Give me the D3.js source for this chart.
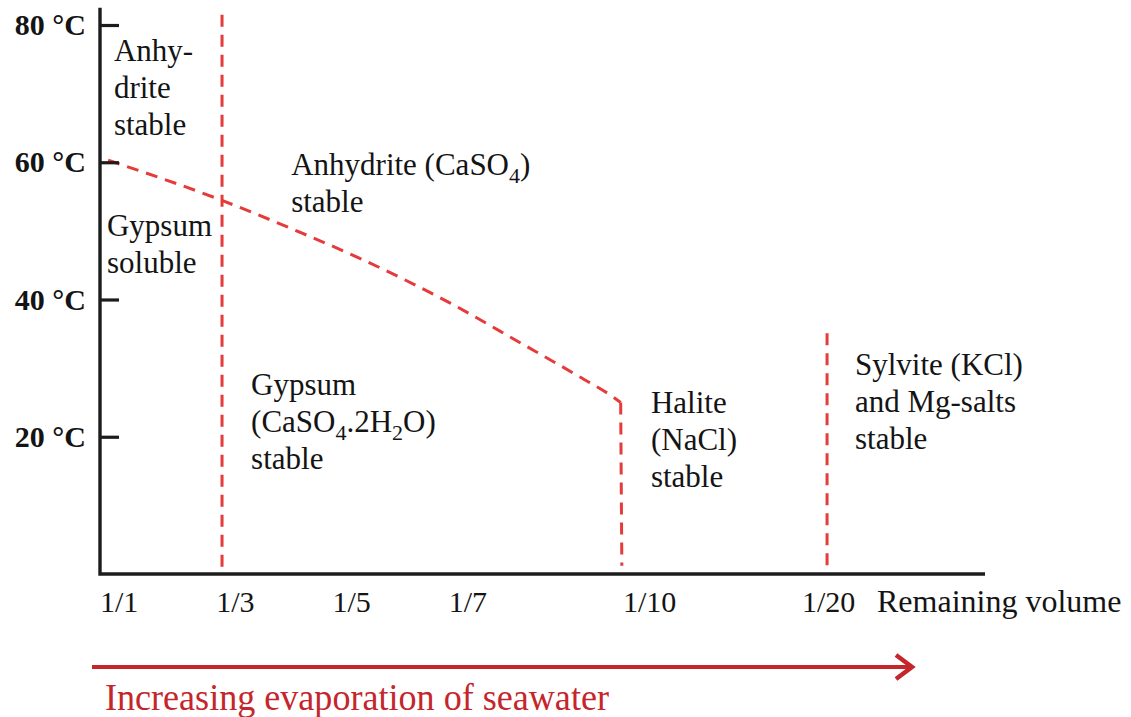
<!DOCTYPE html>
<html>
<head>
<meta charset="utf-8">
<script src="https://cdn.jsdelivr.net/npm/d3@7/dist/d3.min.js"></script>
<style>
  html, body { margin: 0; padding: 0; background: #fff; }
  svg { display: block; }
  text { font-family: "Liberation Serif", "Times New Roman", serif; fill: #141414; }
</style>
</head>
<body>
<svg id="chart" width="1131" height="717"></svg>
<script>
// Concentration factor of seawater (remaining volume = 1/factor)
const xTickValues = [1, 3, 5, 7, 10, 20];
const xTickLabels = ["1/1", "1/3", "1/5", "1/7", "1/10", "1/20"];

// Temperature ticks (°C)
const yTickValues = [20, 40, 60, 80];
const yTickLabels = ["20 °C", "40 °C", "60 °C", "80 °C"];

// Gypsum / anhydrite transition temperature
const transitionFactor = [1.14, 3.08, 4.44, 5.47, 7.02, 8.23, 9.26, 9.83, 9.96];
const transitionTemp   = [60.3, 54.5, 49.8, 46.0, 39.5, 33.7, 28.7, 25.8, 25.0];

// Halite saturation boundary (about 1/10 remaining volume)
const haliteFactor = [9.96, 9.98];
const haliteTemp   = [25.0, 1.2];

// Gypsum saturation boundary (about 1/3 remaining volume)
const gypsumFactor = [3.1, 3.1];
const gypsumTemp   = [81.5, 0];

// Potassium / magnesium salt boundary (beyond 1/20)
const sylviteFactor = [21.4, 21.4];
const sylviteTemp   = [35.1, 0];

// Stability field labels: lines of text, anchor in (factor, °C)
const fieldLines   = [
  [["Anhy-"], ["drite"], ["stable"]],
  [["Gypsum"], ["soluble"]],
  [["Anhydrite (CaSO", {sub: "4"}, ")"], ["stable"]],
  [["Gypsum"], ["(CaSO", {sub: "4"}, ".2H", {sub: "2"}, "O)"], ["stable"]],
  [["Halite"], ["(NaCl)"], ["stable"]],
  [["Sylvite (KCl)"], ["and Mg-salts"], ["stable"]]
];
const fieldFactor = [1.24, 1.12, 4.29, 3.6, 11.56, 22.96];
const fieldTemp   = [74.8, 49.3, 58.1, 26.1, 23.5, 29.0];

const svg = d3.select("#chart");
const W = 1131, H = 717;
svg.append("rect").attr("width", W).attr("height", H).attr("fill", "#fff");

const left = 100, bottom = 574;
const x = d3.scaleLinear().domain([1, 10, 20]).range([left, left + 523, left + 702]);
const y = d3.scaleLinear().domain([0, 80]).range([bottom, 25]);

const red = "#e53b3b";
const axisColor = "#1c1c1c";

// Boundaries (dashed)
const dashed = (fx, ft, curve) => svg.append("path")
  .attr("d", d3.line().x(d => x(d[0])).y(d => y(d[1])).curve(curve)(d3.zip(fx, ft)))
  .attr("fill", "none")
  .attr("stroke", red)
  .attr("stroke-width", 3)
  .attr("stroke-dasharray", "12,8");

dashed(gypsumFactor, gypsumTemp, d3.curveLinear);
dashed(transitionFactor, transitionTemp, d3.curveMonotoneX);
dashed(haliteFactor, haliteTemp, d3.curveLinear);
dashed(sylviteFactor, sylviteTemp, d3.curveLinear);

// Axes
const yAxis = d3.axisLeft(y)
  .tickValues(yTickValues)
  .tickFormat((d, i) => yTickLabels[i])
  .tickSizeInner(-19)
  .tickSizeOuter(0)
  .tickPadding(14);

const gy = svg.append("g").attr("transform", `translate(${left},0)`).call(yAxis);
gy.select(".domain").remove();
gy.selectAll(".tick line").attr("stroke", axisColor).attr("stroke-width", 3.2);
gy.selectAll(".tick text")
  .attr("font-size", 30)
  .attr("font-weight", "bold")
  .attr("fill", "#141414")
  .style("font-family", '"Liberation Serif", "Times New Roman", serif');

// Axis lines
svg.append("path")
  .attr("d", `M${left},${y(82.5)}V${bottom}H${985}`)
  .attr("fill", "none")
  .attr("stroke", axisColor)
  .attr("stroke-width", 3.4);

// X tick labels (left aligned at their factor)
svg.append("g").selectAll("text")
  .data(xTickValues)
  .join("text")
  .attr("x", d => x(d))
  .attr("y", 612)
  .attr("font-size", 30)
  .text((d, i) => xTickLabels[i]);

svg.append("text")
  .attr("x", 877)
  .attr("y", 612)
  .attr("font-size", 32)
  .text("Remaining volume");

// Field labels
const fieldG = svg.append("g").attr("font-size", 31);
fieldLines.forEach((lines, i) => {
  const t = fieldG.append("text")
    .attr("x", x(fieldFactor[i]))
    .attr("y", y(fieldTemp[i]));
  lines.forEach((parts, j) => {
    parts.forEach((p, k) => {
      const ts = t.append("tspan");
      if (k === 0) ts.attr("x", x(fieldFactor[i])).attr("dy", j === 0 ? 0 : 37);
      if (typeof p === "string") {
        ts.text(p);
        if (k > 0 && typeof parts[k - 1] !== "string") ts.attr("dy", -8);
      } else {
        ts.text(p.sub).attr("font-size", 22).attr("dy", 8);
      }
    });
  });
});

// Evaporation arrow
const arrowColor = "#c4262b";
const ay = 667;
svg.append("path")
  .attr("d", `M92,${ay}H911`)
  .attr("stroke", arrowColor)
  .attr("stroke-width", 4)
  .attr("fill", "none");
svg.append("path")
  .attr("d", `M896,${ay - 12}L912,${ay}L896,${ay + 12}`)
  .attr("stroke", arrowColor)
  .attr("stroke-width", 4.5)
  .attr("fill", "none");

svg.append("text")
  .attr("x", 105)
  .attr("y", 710)
  .attr("font-size", 38)
  .attr("transform", "translate(105,0) scale(0.95,1) translate(-105,0)")
  .style("fill", arrowColor)
  .text("Increasing evaporation of seawater");
</script>
</body>
</html>
